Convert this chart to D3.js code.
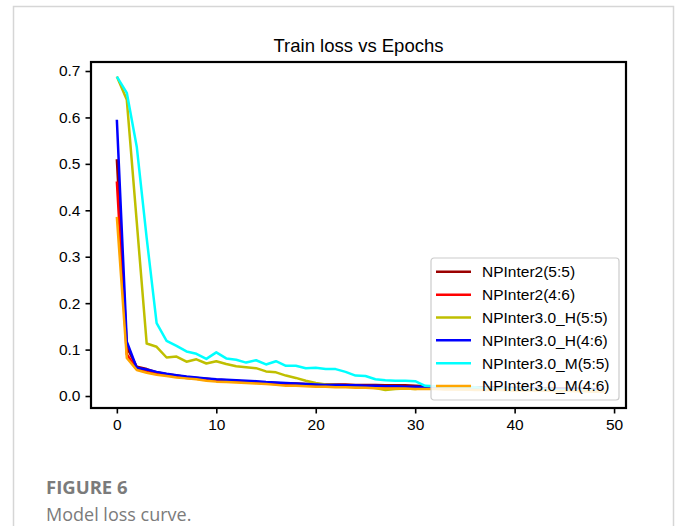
<!DOCTYPE html>
<html lang="en">
<head>
    <meta charset="UTF-8">
    <title>Train loss vs Epochs</title>
    <script src="https://d3js.org/d3.v7.min.js"></script>
    <style>
        body { margin: 0; background: #fff; }
    </style>
</head>
<body>
    <script>
        // Loss values per epoch
        const np2_55 = [0.510, 0.105, 0.063, 0.058, 0.051, 0.047, 0.044, 0.041, 0.039, 0.037,
                        0.035, 0.034, 0.033, 0.031, 0.030, 0.029, 0.028, 0.027, 0.027, 0.026,
                        0.026, 0.025, 0.025, 0.025, 0.024, 0.024, 0.024, 0.023, 0.023, 0.023,
                        0.022, 0.021, 0.021, 0.020, 0.020, 0.020, 0.019, 0.019, 0.019, 0.018,
                        0.018, 0.018, 0.017, 0.017, 0.017, 0.016, 0.016, 0.016, 0.015, 0.015];
        const np2_46 = [0.462, 0.090, 0.058, 0.054, 0.049, 0.045, 0.042, 0.039, 0.037, 0.035,
                        0.034, 0.032, 0.031, 0.030, 0.029, 0.027, 0.026, 0.025, 0.024, 0.023,
                        0.022, 0.022, 0.021, 0.021, 0.020, 0.020, 0.019, 0.019, 0.019, 0.018,
                        0.018, 0.017, 0.017, 0.017, 0.016, 0.016, 0.016, 0.015, 0.015, 0.015,
                        0.014, 0.014, 0.014, 0.014, 0.013, 0.013, 0.013, 0.013, 0.012, 0.012];
        const np3h_55 = [0.688, 0.638, 0.375, 0.113, 0.106, 0.083, 0.085, 0.074, 0.079, 0.070,
                         0.075, 0.069, 0.064, 0.062, 0.060, 0.053, 0.051, 0.044, 0.039, 0.033,
                         0.028, 0.025, 0.024, 0.022, 0.021, 0.020, 0.017, 0.013, 0.015, 0.016,
                         0.015, 0.017, 0.016, 0.015, 0.015, 0.014, 0.014, 0.013, 0.014, 0.013,
                         0.012, 0.013, 0.012, 0.012, 0.011, 0.012, 0.011, 0.011, 0.010, 0.011];
        const np3h_46 = [0.595, 0.117, 0.061, 0.057, 0.052, 0.048, 0.045, 0.042, 0.040, 0.038,
                         0.036, 0.035, 0.034, 0.033, 0.032, 0.030, 0.029, 0.028, 0.027, 0.026,
                         0.025, 0.024, 0.024, 0.023, 0.023, 0.022, 0.022, 0.021, 0.021, 0.020,
                         0.020, 0.019, 0.019, 0.019, 0.018, 0.018, 0.018, 0.017, 0.017, 0.017,
                         0.016, 0.016, 0.016, 0.015, 0.015, 0.015, 0.015, 0.014, 0.014, 0.014];
        const np3m_55 = [0.688, 0.653, 0.537, 0.340, 0.157, 0.119, 0.108, 0.096, 0.091, 0.080,
                         0.094, 0.081, 0.078, 0.072, 0.077, 0.068, 0.075, 0.065, 0.065, 0.060,
                         0.061, 0.058, 0.058, 0.052, 0.044, 0.043, 0.036, 0.034, 0.033, 0.033,
                         0.032, 0.022, 0.021, 0.020, 0.019, 0.018, 0.019, 0.017, 0.016, 0.016,
                         0.015, 0.015, 0.014, 0.015, 0.013, 0.013, 0.012, 0.013, 0.012, 0.011];
        const np3m_46 = [0.386, 0.082, 0.056, 0.050, 0.046, 0.043, 0.040, 0.038, 0.036, 0.033,
                         0.031, 0.030, 0.029, 0.028, 0.027, 0.026, 0.024, 0.022, 0.022, 0.021,
                         0.020, 0.020, 0.019, 0.019, 0.018, 0.018, 0.017, 0.016, 0.016, 0.016,
                         0.015, 0.015, 0.015, 0.014, 0.014, 0.014, 0.013, 0.013, 0.013, 0.013,
                         0.012, 0.012, 0.012, 0.012, 0.011, 0.011, 0.011, 0.011, 0.010, 0.010];

        const seriesNames = ["NPInter2(5:5)", "NPInter2(4:6)", "NPInter3.0_H(5:5)",
                             "NPInter3.0_H(4:6)", "NPInter3.0_M(5:5)", "NPInter3.0_M(4:6)"];
        const seriesValues = [np2_55, np2_46, np3h_55, np3h_46, np3m_55, np3m_46];
        const seriesColors = ["#9b0000", "#ff0000", "#bfbf00", "#0000ff", "#00ffff", "#ffa500"];
        const xTicks = [0, 10, 20, 30, 40, 50];
        const yTicks = [0.0, 0.1, 0.2, 0.3, 0.4, 0.5, 0.6, 0.7];

        const width = 677, height = 526;
        const plot = { left: 91, right: 626, top: 62, bottom: 408 };
        const font = "'Liberation Sans', Arial, sans-serif";

        const svg = d3.select("body")
            .append("svg")
            .attr("width", width)
            .attr("height", height);

        // Card frame around the figure
        svg.append("rect")
            .attr("x", 13.5)
            .attr("y", 6.5)
            .attr("width", 660)
            .attr("height", 600)
            .attr("fill", "#fff")
            .attr("stroke", "#d6d6d6")
            .attr("stroke-width", 1.5);

        const x = d3.scaleLinear().domain([-2.6, 51.2]).range([plot.left, plot.right]);
        const y = d3.scaleLinear().domain([-0.0258, 0.7194]).range([plot.bottom, plot.top]);

        const series = seriesNames.map((name, i) => ({
            name: name,
            color: seriesColors[i],
            points: seriesValues[i].map((v, e) => ({ epoch: e, loss: v }))
        }));

        svg.append("defs").append("clipPath")
            .attr("id", "plot-clip")
            .append("rect")
            .attr("x", plot.left)
            .attr("y", plot.top)
            .attr("width", plot.right - plot.left)
            .attr("height", plot.bottom - plot.top);

        // Lines
        const line = d3.line()
            .x(d => x(d.epoch))
            .y(d => y(d.loss));

        svg.append("g")
            .attr("clip-path", "url(#plot-clip)")
            .selectAll("path")
            .data(series)
            .enter()
            .append("path")
            .attr("d", d => line(d.points))
            .attr("fill", "none")
            .attr("stroke", d => d.color)
            .attr("stroke-width", 2.5)
            .attr("stroke-linejoin", "round");

        // Axes
        const xAxis = svg.append("g")
            .attr("transform", `translate(0,${plot.bottom})`)
            .call(d3.axisBottom(x).tickValues(xTicks).tickFormat(d3.format("d"))
                .tickSizeInner(5.5).tickSizeOuter(0).tickPadding(5));
        const yAxis = svg.append("g")
            .attr("transform", `translate(${plot.left},0)`)
            .call(d3.axisLeft(y).tickValues(yTicks).tickFormat(d3.format(".1f"))
                .tickSizeInner(5.5).tickSizeOuter(0).tickPadding(5));

        [xAxis, yAxis].forEach(g => {
            g.select(".domain").remove();
            g.selectAll(".tick line").attr("stroke", "#000").attr("stroke-width", 1.6);
            g.selectAll(".tick text")
                .attr("fill", "#000")
                .attr("font-family", font)
                .attr("font-size", "15.5px");
        });

        // Plot frame
        svg.append("rect")
            .attr("x", plot.left)
            .attr("y", plot.top)
            .attr("width", plot.right - plot.left)
            .attr("height", plot.bottom - plot.top)
            .attr("fill", "none")
            .attr("stroke", "#000")
            .attr("stroke-width", 2.2);

        // Title
        svg.append("text")
            .attr("x", (plot.left + plot.right) / 2)
            .attr("y", 52)
            .attr("text-anchor", "middle")
            .attr("font-family", font)
            .attr("font-size", "18.5px")
            .text("Train loss vs Epochs");

        // Legend
        const legend = svg.append("g").attr("transform", "translate(431,258)");
        legend.append("rect")
            .attr("width", 188)
            .attr("height", 142)
            .attr("rx", 3)
            .attr("fill", "#fff")
            .attr("fill-opacity", 0.85)
            .attr("stroke", "#cccccc")
            .attr("stroke-width", 1.2);

        const rows = legend.selectAll("g.row")
            .data(series)
            .enter()
            .append("g")
            .attr("class", "row")
            .attr("transform", (d, i) => `translate(0,${13.8 + i * 22.85})`);
        rows.append("line")
            .attr("x1", 5)
            .attr("x2", 40)
            .attr("stroke", d => d.color)
            .attr("stroke-width", 2.5);
        rows.append("text")
            .attr("x", 51)
            .attr("dy", "0.35em")
            .attr("font-family", font)
            .attr("font-size", "15.5px")
            .text(d => d.name);

        // Figure caption
        svg.append("text")
            .attr("x", 46)
            .attr("y", 494)
            .attr("font-family", "'Open Sans', sans-serif")
            .attr("font-weight", 700)
            .attr("font-size", "18.5px")
            .attr("fill", "#7b7b7b")
            .text("FIGURE 6");
        svg.append("text")
            .attr("x", 46)
            .attr("y", 521)
            .attr("font-family", "'Open Sans', sans-serif")
            .attr("font-size", "18px")
            .attr("fill", "#7b7b7b")
            .text("Model loss curve.");
    </script>
</body>
</html>
